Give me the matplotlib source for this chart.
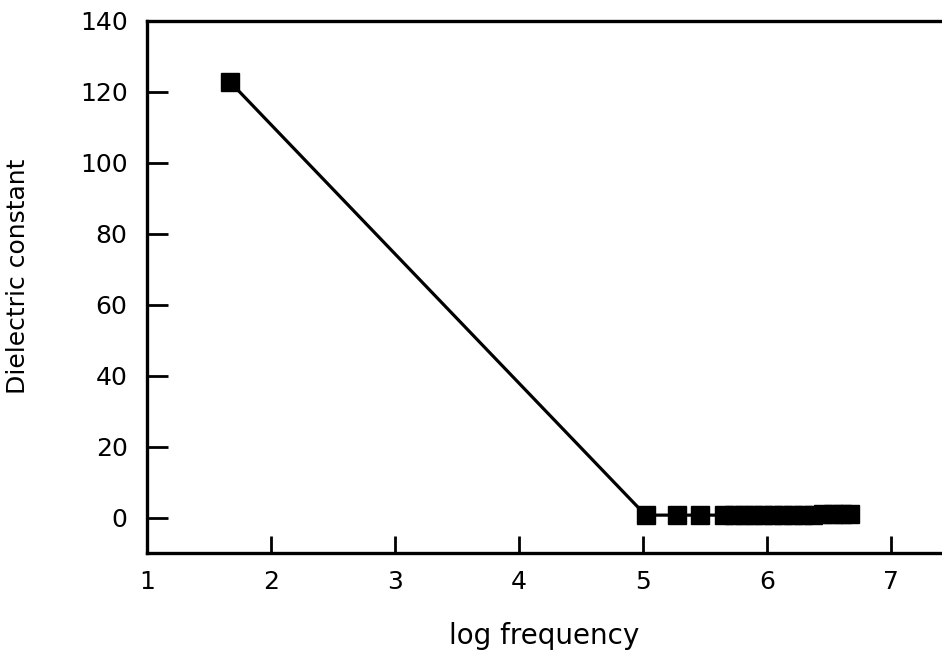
import numpy as np
import matplotlib.pyplot as plt

# data
log_freq = [1.67, 5.02, 5.27, 5.46, 5.65, 5.73, 5.81, 5.89, 5.97, 6.05,
            6.13, 6.21, 6.29, 6.37, 6.45, 6.53, 6.60, 6.67]
dielectric = [122.8, 0.7, 0.7, 0.7, 0.7, 0.7, 0.7, 0.7, 0.7, 0.7,
              0.7, 0.7, 0.8, 0.8, 0.9, 0.9, 0.9, 0.9]

x_ticks = [1, 2, 3, 4, 5, 6, 7]
y_ticks = [0, 20, 40, 60, 80, 100, 120, 140]

plt.rcParams['font.family'] = ['DejaVu Sans']

fig = plt.figure(figsize=(9.42, 6.53), dpi=100)
ax = fig.add_axes([0.156, 0.153, 0.844, 0.815])

ax.plot(log_freq, dielectric, color="black", linewidth=2.3,
        marker="s", markersize=13, markerfacecolor="black",
        markeredgecolor="black")

ax.set_xlim(1, 7.41)
ax.set_ylim(-10, 140)
ax.set_xticks(x_ticks)
ax.set_yticks(y_ticks)

for side in ["left", "bottom", "top"]:
    ax.spines[side].set_linewidth(2.4)
ax.spines["right"].set_visible(False)

ax.tick_params(axis="y", direction="in", length=15, width=2, pad=14,
               labelsize=18)
ax.tick_params(axis="x", direction="in", length=12, width=2, pad=12,
               labelsize=18)

ax.set_xlabel("log frequency", fontsize=20, labelpad=20)
ax.set_ylabel("Dielectric constant", fontsize=18)
ax.yaxis.set_label_coords(-0.147, 0.52)

fig.savefig("out.png", dpi=100)
